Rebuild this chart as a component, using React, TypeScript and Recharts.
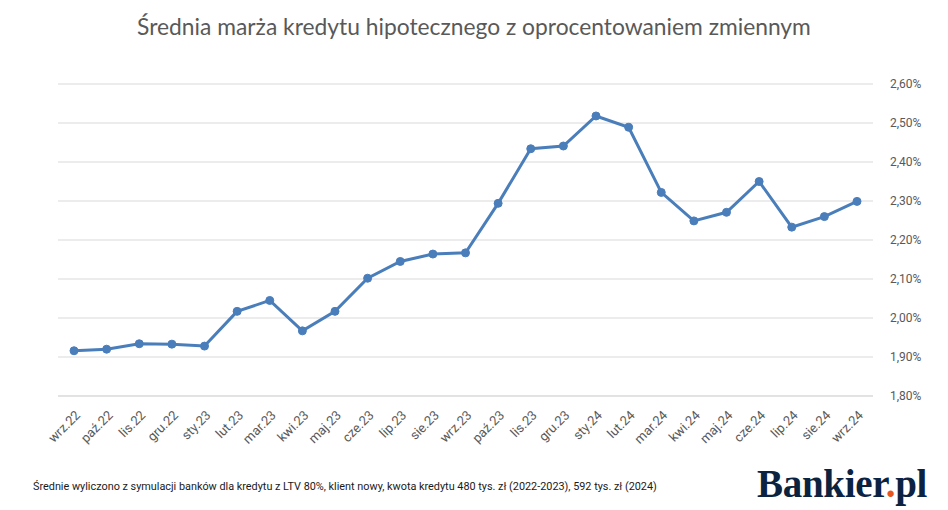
import { LineChart, Line, XAxis, YAxis, CartesianGrid } from 'recharts'

const months = [
  'wrz.22', 'paź.22', 'lis.22', 'gru.22', 'sty.23', 'lut.23', 'mar.23', 'kwi.23', 'maj.23',
  'cze.23', 'lip.23', 'sie.23', 'wrz.23', 'paź.23', 'lis.23', 'gru.23', 'sty.24', 'lut.24',
  'mar.24', 'kwi.24', 'maj.24', 'cze.24', 'lip.24', 'sie.24', 'wrz.24',
]
const margins = [
  1.916, 1.92, 1.934, 1.933, 1.928, 2.017, 2.045, 1.967, 2.017, 2.102, 2.145, 2.164, 2.167,
  2.294, 2.434, 2.441, 2.518, 2.489, 2.322, 2.249, 2.271, 2.35, 2.233, 2.26, 2.299,
]
const yTicks = [1.8, 1.9, 2.0, 2.1, 2.2, 2.3, 2.4, 2.5, 2.6]

const title = 'Średnia marża kredytu hipotecznego z oprocentowaniem zmiennym'
const note = 'Średnie wyliczono z symulacji banków dla kredytu z LTV 80%, klient nowy, kwota kredytu 480 tys. zł (2022-2023), 592 tys. zł (2024)'

const data = months.map((m, i) => ({ month: m, value: margins[i] }))

const fmtPct = (v: number) => v.toFixed(2).replace('.', ',') + '%'

function MonthTick({ x, y, payload }: any) {
  const tx = x + 7
  const ty = y + 12
  return (
    <text
      x={tx}
      y={ty}
      transform={`rotate(-45, ${tx}, ${ty})`}
      textAnchor="end"
      fill="#595959"
      fontSize={13}
      fontFamily="Roboto, sans-serif"
    >
      {payload.value}
    </text>
  )
}

export default function App() {
  return (
    <div style={{ position: 'absolute', left: 0, top: 0, width: 948, height: 510, background: '#fff', fontFamily: 'Roboto, sans-serif' }}>
      <div style={{ position: 'absolute', top: 12, left: 0, width: 948, textAlign: 'center', fontSize: 22.8, color: '#595959', fontFamily: 'Lato, sans-serif' }}>
        {title}
      </div>
      <LineChart width={948} height={510} data={data} margin={{ top: 84, right: 15, left: 58, bottom: 64 }}>
        <CartesianGrid vertical={false} stroke="#d9d9d9" strokeWidth={1} />
        <XAxis
          dataKey="month"
          interval={0}
          padding={{ left: 16, right: 16 }}
          tick={<MonthTick />}
          tickLine={false}
          axisLine={{ stroke: '#d9d9d9' }}
          height={50}
        />
        <YAxis
          orientation="right"
          domain={[1.8, 2.6]}
          ticks={yTicks}
          tickFormatter={fmtPct}
          axisLine={false}
          tickLine={false}
          width={60}
          tickMargin={11}
          tick={{ fill: '#595959', fontSize: 12, textAnchor: 'start' }}
        />
        <Line
          type="linear"
          dataKey="value"
          stroke="#4a7ebb"
          strokeWidth={3}
          dot={{ r: 4, fill: '#4a7ebb', stroke: '#4a7ebb', strokeWidth: 1 }}
          isAnimationActive={false}
        />
      </LineChart>
      <div style={{ position: 'absolute', left: 33, top: 480, fontSize: 10.85, color: '#1a1a1a' }}>{note}</div>
      <div style={{ position: 'absolute', left: 757, top: 461, fontSize: 39, fontWeight: 'bold', color: '#0b2341', fontFamily: '"Liberation Serif", serif', letterSpacing: -0.3 }}>
        Bankier<span style={{ color: '#e8541e' }}>.</span>pl
      </div>
    </div>
  )
}
